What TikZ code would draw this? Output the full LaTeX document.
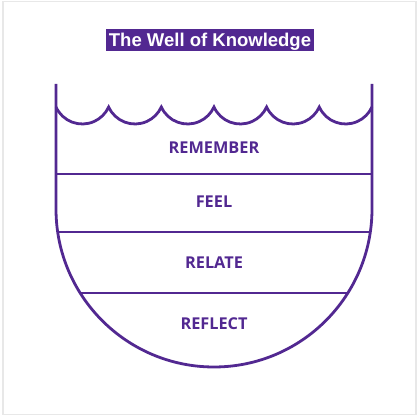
\documentclass[tikz,border=0pt]{standalone}
\usepackage{fontspec}
\setmainfont{Liberation Sans}
\newfontfamily\opensans{Open Sans}
\usepackage{xcolor}
\definecolor{wellpurple}{RGB}{82,40,145}
\definecolor{framegray}{RGB}{232,232,232}
\tikzset{
    wall/.style={draw=wellpurple, line width=2.8pt},
    divider/.style={draw=wellpurple, line width=1.6pt},
    layer/.style={text=wellpurple, font=\opensans\bfseries\fontsize{16.3}{18}\selectfont, inner sep=0pt},
    banner/.style={fill=wellpurple, text=white, font=\bfseries\fontsize{18.5}{20}\selectfont,
                   inner xsep=3pt, inner ysep=0pt, text height=17.5pt, text depth=4.5pt}
}

\begin{document}
\begin{tikzpicture}[x=1pt, y=1pt]
    \useasboundingbox (0,0) rectangle (420,419);
    \draw[framegray, line width=1.5pt] (3,4.5) rectangle (416,417.5);

    \node[banner] (title) at (210,378.5) {The Well of Knowledge};

    % well walls and bottom
    \draw[wall] (56,335) -- (56,210) arc[start angle=180, end angle=360, radius=158] -- (372,335);
    % water surface
    \draw[wall] (56,312) \foreach \i in {1,...,6} {arc[start angle=204.3, end angle=335.7, radius=28.89]};

    % layers
    \draw[divider] (56,245) -- (372,245);
    \draw[divider] (57.7,187) -- (370.3,187);
    \draw[divider] (80.2,126) -- (347.8,126);

    \node[layer] (remember) at (214,271) {REMEMBER};
    \node[layer] (feel) at (214,217) {FEEL};
    \node[layer] (relate) at (214,156) {RELATE};
    \node[layer] (reflect) at (214,95) {REFLECT};
\end{tikzpicture}
\end{document}
